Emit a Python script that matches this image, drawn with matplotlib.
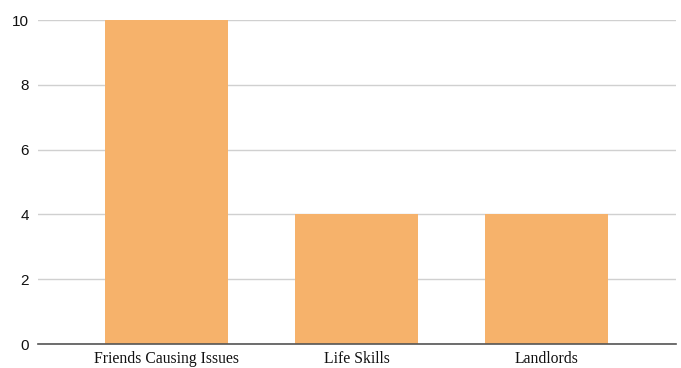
import matplotlib.pyplot as plt

categories = ["Friends Causing Issues", "Life Skills", "Landlords"]
counts = [10, 4, 4]
y_ticks = [0, 2, 4, 6, 8, 10]

fig = plt.figure(figsize=(6.81, 3.68), dpi=100)
ax = fig.add_axes([38 / 681, 24 / 368, 638 / 681, 324 / 368])

x = list(range(len(categories)))
ax.bar(x, counts, width=0.647, color="#F6B26B", zorder=3)

ax.set_xlim(-0.676, 2.68)
ax.set_ylim(0, 10)
ax.set_yticks(y_ticks)
ax.set_yticklabels([str(t) for t in y_ticks], fontfamily="Liberation Sans", fontsize=11, color="#111111")
ax.set_xticks(x)
ax.set_xticklabels(categories, fontfamily="Liberation Serif", fontsize=11.3, color="#111111")

ax.grid(axis="y", color="#d0d0d0", lw=1, zorder=0)
ax.tick_params(axis="both", length=0)
ax.tick_params(axis="y", pad=6.5)
ax.tick_params(axis="x", pad=5)
for side in ["top", "right", "left"]:
    ax.spines[side].set_visible(False)
ax.spines["bottom"].set_color("#555555")
ax.spines["bottom"].set_linewidth(1.2)
ax.spines["bottom"].set_zorder(4)

fig.savefig("out.png", dpi=100)
